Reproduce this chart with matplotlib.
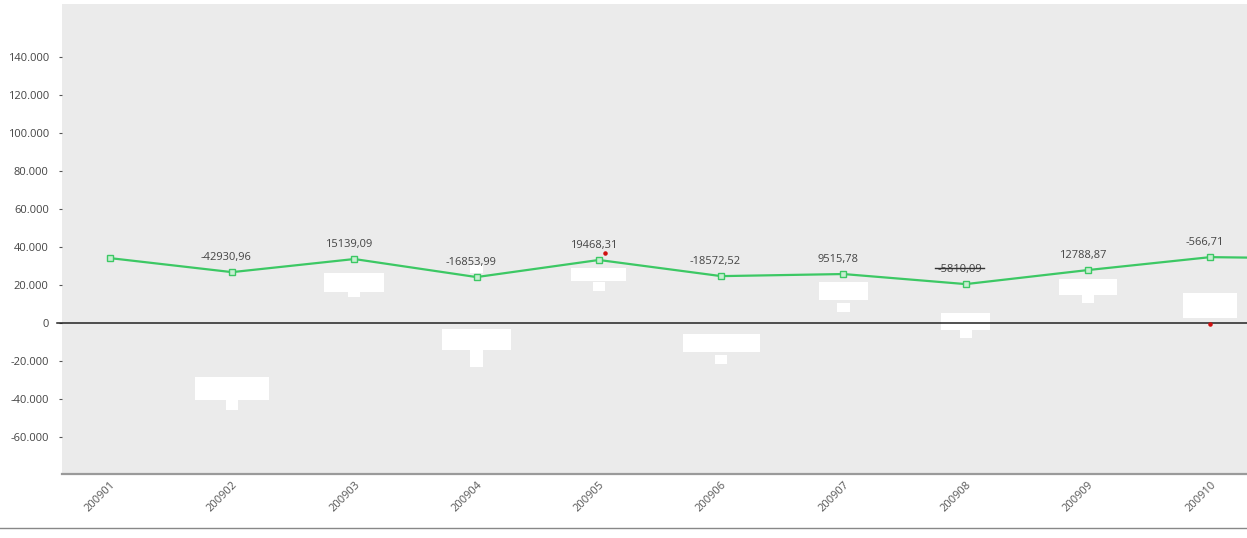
import matplotlib
matplotlib.use("Agg")
import matplotlib.pyplot as plt
from matplotlib.lines import Line2D
from matplotlib.ticker import FuncFormatter

plt.rcParams['font.family'] = ['Open Sans', 'DejaVu Sans']

categories = ['200901', '200902', '200903', '200904', '200905', '200906',
              '200907', '200908', '200909', '200910', '200911']
line_values = [34200, 26800, 33700, 24200, 33200, 24700, 25800, 20500, 27900, 34700, 33900]
labels = [None, '-42930,96', '15139,09', '-16853,99', '19468,31', '-18572,52',
          '9515,78', '-5810,09', '12788,87', '-566,71', None]
bar_bottom = [None, -40500, 16300, -14200, 22100, -15300, 12100, -3700, 14700, 2600]
bar_top = [None, -28400, 26300, -3200, 28900, -5800, 21600, 5300, 23200, 15800]
bar_width = [None, 0.60, 0.49, 0.57, 0.45, 0.63, 0.40, 0.40, 0.47, 0.44]
blob_x = [1.0, 2.0, 3.0, 3.0, 4.0, 5.0, 6.0, 7.0, 8.0]
blob_bottom = [-45800, 13700, -23200, 26300, 16800, -21600, 5800, -7900, 10500]
blob_top = [-40500, 16300, -14200, 30500, 21600, -16800, 10500, -3700, 14700]
red_x = [4.05, 9.0]
red_y = [36800, -500]
yticks = [-60000, -40000, -20000, 0, 20000, 40000, 60000, 80000, 100000, 120000, 140000]

fig = plt.figure(figsize=(12.47, 5.38), dpi=100)
fig.patch.set_facecolor('white')
ax = fig.add_axes([62/1247, 1-474/538, 1-62/1247, (474-4)/538])
ax.set_facecolor('#ebebeb')

x = list(range(len(categories)))

# white bars
for i, (b, t, w) in enumerate(zip(bar_bottom, bar_top, bar_width)):
    if b is None:
        continue
    ax.bar(i, t - b, bottom=b, width=w, color='white', edgecolor='none', zorder=2)
for bx, b, t in zip(blob_x, blob_bottom, blob_top):
    ax.bar(bx, t - b, bottom=b, width=0.1, color='white', edgecolor='none', zorder=2)

# zero line
ax.plot([-0.004, 1], [0, 0], transform=ax.get_yaxis_transform(), color='#222222',
        lw=1.1, clip_on=False, zorder=3)

ax.plot(x, line_values, color='#3cc864', lw=1.6, marker='s', markersize=4.5,
        mfc='#c8eed2', mec='#3cc864', mew=1.0, zorder=4)

ax.scatter(red_x, red_y, s=5, color='#d01010', zorder=5)

for i, lab in enumerate(labels):
    if lab is None:
        continue
    ax.annotate(lab, (i, line_values[i]), xytext=(-4, 6.5), textcoords='offset points',
                ha='center', va='bottom', fontsize=8, color='#444444', zorder=5)

# strike line over the 200908 label
ax.plot([6.75, 7.15], [28900, 28900], color='#333333', lw=1.0, zorder=6)

ax.set_xlim(-0.39, 9.30)
ax.set_ylim(-79500, 168000)
ax.set_xticks(x[:10])
ax.set_xticklabels(categories[:10], rotation=45, ha='right', va='top',
                   rotation_mode='anchor', fontsize=8, color='#555555')
ax.set_yticks(yticks)
ax.yaxis.set_major_formatter(FuncFormatter(lambda v, p: f"{int(v):,}".replace(',', '.')))
ax.tick_params(axis='y', length=2.5, width=0.8, color='#555555', pad=7,
               labelsize=8, labelcolor='#444444')
ax.tick_params(axis='x', length=0, pad=4)

for s in ['top', 'right', 'left']:
    ax.spines[s].set_visible(False)
ax.spines['bottom'].set_color('#9a9a9a')
ax.spines['bottom'].set_linewidth(1.6)

fig.add_artist(Line2D([0, 1], [1-528/538, 1-528/538], color='#888888', lw=1.0))

plt.savefig('out.png', dpi=100, facecolor='white')
